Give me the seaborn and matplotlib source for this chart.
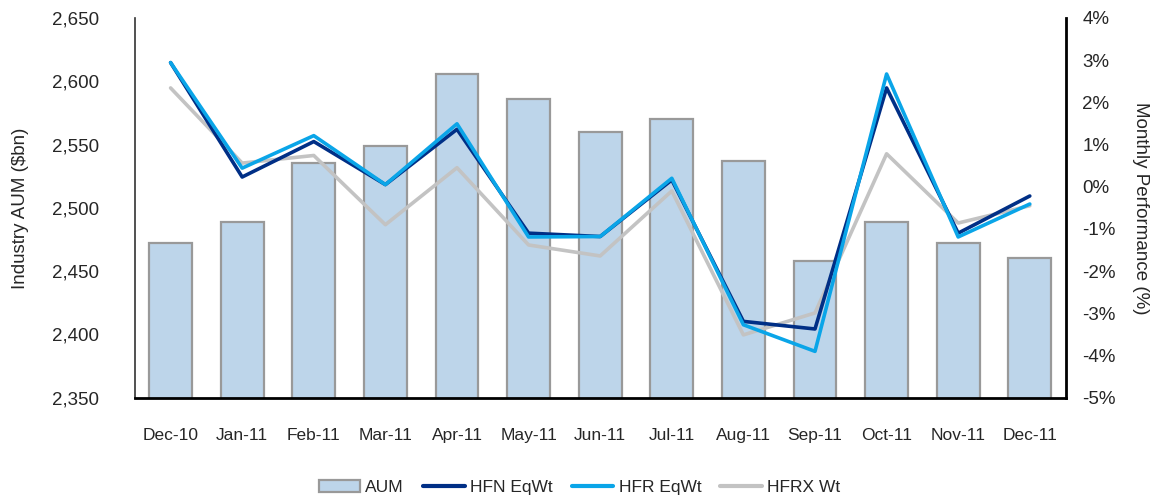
import numpy as np
import pandas as pd
import matplotlib
matplotlib.use("Agg")
import matplotlib.pyplot as plt
import seaborn as sns
from matplotlib.ticker import FuncFormatter
from matplotlib.patches import Patch
from matplotlib.lines import Line2D

months = ["Dec-10", "Jan-11", "Feb-11", "Mar-11", "Apr-11", "May-11", "Jun-11",
          "Jul-11", "Aug-11", "Sep-11", "Oct-11", "Nov-11", "Dec-11"]
aum = [2472, 2489, 2535, 2549, 2606, 2586, 2560, 2570, 2537, 2458, 2489, 2472, 2460]
hfn_eqwt = [2.94, 0.23, 1.07, 0.05, 1.36, -1.10, -1.18, 0.16, -3.19, -3.37, 2.34, -1.10, -0.22]
hfr_eqwt = [2.94, 0.44, 1.21, 0.05, 1.49, -1.19, -1.18, 0.20, -3.27, -3.90, 2.67, -1.19, -0.41]
hfrx_wt = [2.34, 0.56, 0.74, -0.90, 0.45, -1.38, -1.64, -0.10, -3.51, -2.99, 0.78, -0.86, -0.45]

sns.set_style("white")
plt.rcParams["font.family"] = ["Liberation Sans", "DejaVu Sans"]

bar_df = pd.DataFrame({"month": months, "aum": aum})
perf = pd.DataFrame({"pos": np.arange(len(months)),
                     "HFN EqWt": hfn_eqwt, "HFR EqWt": hfr_eqwt, "HFRX Wt": hfrx_wt})

fig = plt.figure(figsize=(11.52, 4.96), dpi=100)
ax = fig.add_axes([0.117, 0.198, 0.808, 0.766])

sns.barplot(data=bar_df, x="month", y="aum", ax=ax, color="#bdd5ea",
            edgecolor="#999999", linewidth=1.6, width=0.6, saturation=1)
ax.set_ylim(2350, 2650)
ax.set_xlim(-0.5, len(months) - 0.5)
ax.set_yticks(np.arange(2350, 2651, 50))
ax.yaxis.set_major_formatter(FuncFormatter(lambda v, p: f"{int(v):,}"))
ax.set_xlabel("")
ax.set_ylabel("Industry AUM ($bn)", fontsize=13.5, labelpad=16)
ax.tick_params(axis="both", length=0)
ax.tick_params(axis="x", pad=22, labelsize=12.5)
ax.tick_params(axis="y", pad=26, labelsize=13.5)

ax2 = ax.twinx()
line_colors = {"HFN EqWt": "#002f86", "HFR EqWt": "#0aa5e8", "HFRX Wt": "#c3c3c3"}
for name in ["HFRX Wt", "HFN EqWt", "HFR EqWt"]:
    sns.lineplot(data=perf, x="pos", y=name, ax=ax2, color=line_colors[name],
                 linewidth=2.6, zorder=3)
ax2.set_ylim(-5, 4)
ax2.set_yticks(np.arange(-5, 5, 1))
ax2.yaxis.set_major_formatter(FuncFormatter(lambda v, p: f"{int(v)}%"))
ax2.set_xlim(-0.5, len(months) - 0.5)
ax2.set_xlabel("")
ax2.set_ylabel("Monthly Performance (%)", fontsize=13.5, rotation=270, labelpad=24)
ax2.tick_params(axis="y", length=0, labelsize=13.5, pad=12)

for a in (ax, ax2):
    a.spines["top"].set_visible(False)
ax.spines["left"].set_color("#333333")
ax.spines["left"].set_linewidth(1.2)
ax.spines["bottom"].set_color("black")
ax.spines["bottom"].set_linewidth(2)
ax2.spines["right"].set_color("black")
ax2.spines["right"].set_linewidth(2)
ax2.spines["left"].set_visible(False)
ax2.spines["bottom"].set_visible(False)

handles = [Patch(facecolor="#bdd5ea", edgecolor="#999999", linewidth=1.6, label="AUM")]
for name in ["HFN EqWt", "HFR EqWt", "HFRX Wt"]:
    handles.append(Line2D([0], [0], color=line_colors[name], linewidth=3, label=name))
fig.legend(handles=handles, loc="lower center", bbox_to_anchor=(0.503, -0.03), ncol=4,
           frameon=False, fontsize=12.5, handlelength=2.4, columnspacing=1.1,
           handletextpad=0.3)

fig.savefig("out.png", dpi=100)
